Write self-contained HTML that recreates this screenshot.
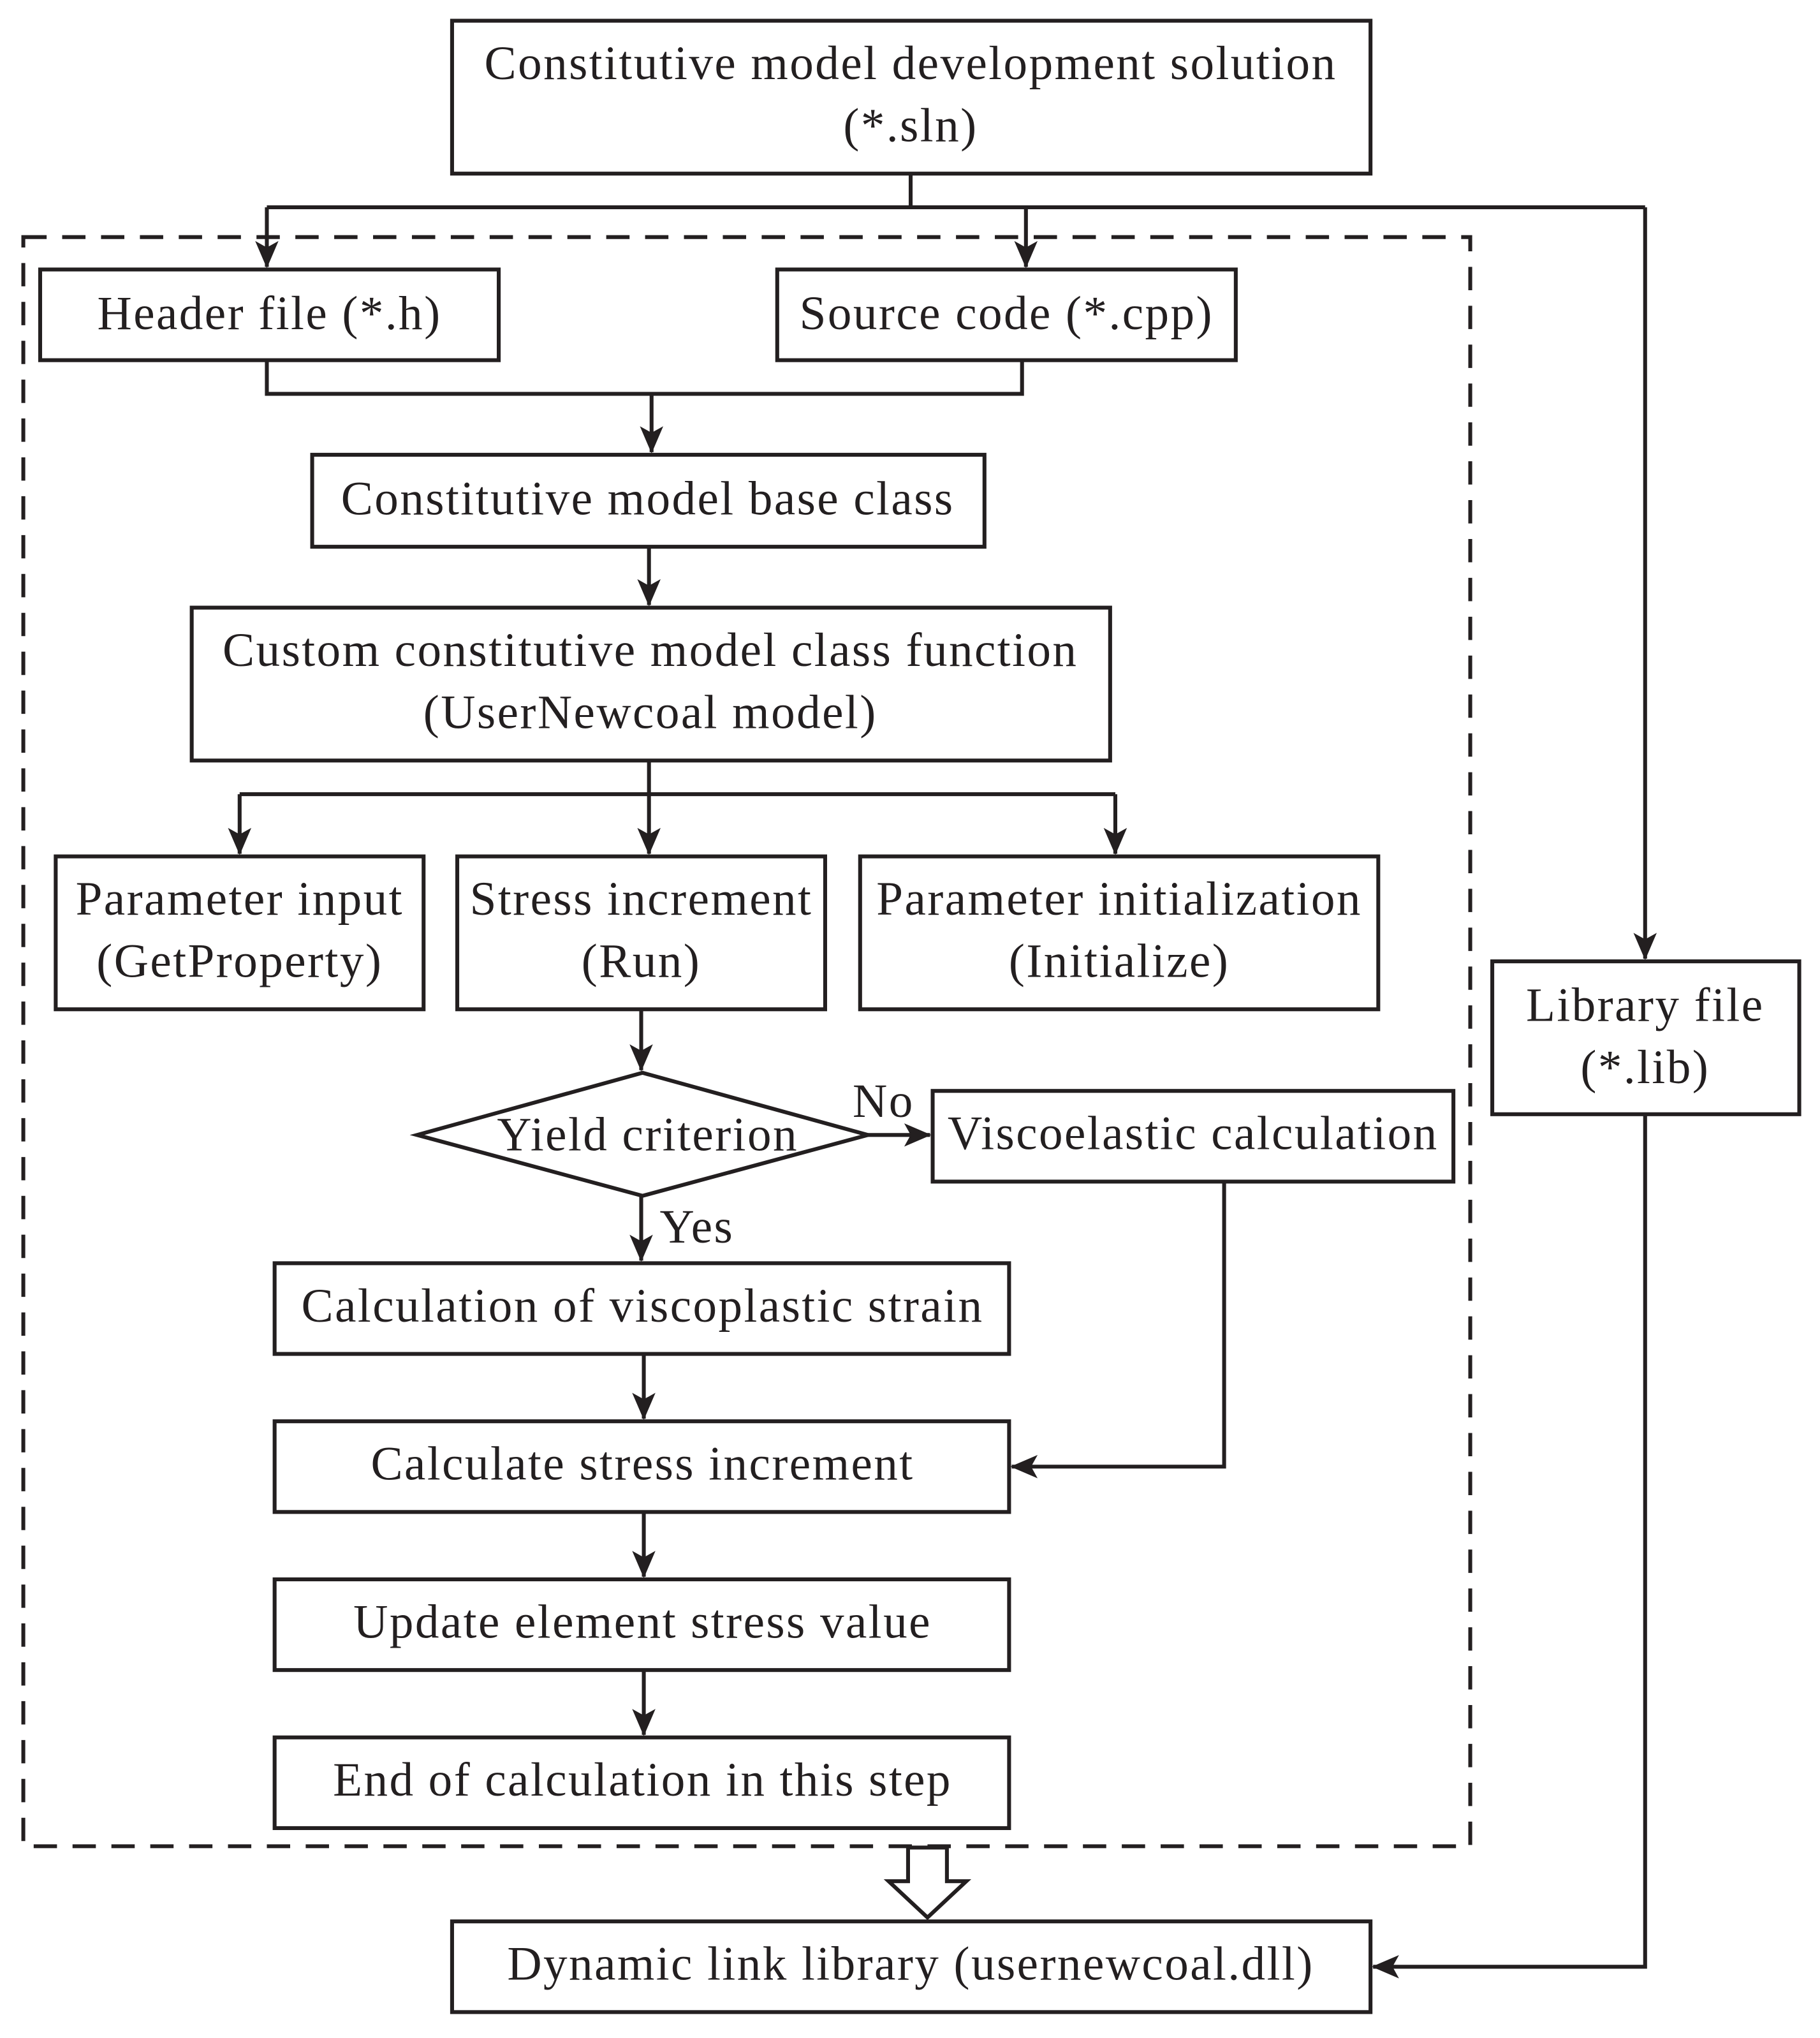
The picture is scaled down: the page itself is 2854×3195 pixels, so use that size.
<!DOCTYPE html>
<html><head><meta charset="utf-8"><style>
html,body{margin:0;padding:0;background:#fff;}
svg{display:block;}
text{font-family:"Liberation Serif",serif;font-size:37px;letter-spacing:1.2px;fill:#231f20;text-anchor:middle;}
.b{fill:#fff;stroke:#231f20;stroke-width:3;}
.l{fill:none;stroke:#231f20;stroke-width:3;}
</style></head><body>
<svg width="2854" height="3195" viewBox="0 0 1405 1573" preserveAspectRatio="none" xmlns="http://www.w3.org/2000/svg">
<defs>
<marker id="m" markerWidth="22" markerHeight="20" refX="20" refY="10" orient="auto" markerUnits="userSpaceOnUse"><path d="M0,1 L21,10 L0,19 L5,10z" fill="#231f20"/></marker></defs>
<rect x="18" y="183" width="1117" height="1242" fill="none" stroke="#231f20" stroke-width="3" stroke-dasharray="18,12"/>
<path class="l" d="M703,134 V160 M206,160 H1270 M206,160 V206" marker-end="url(#m)"/>
<path class="l" d="M792,160 V206" marker-end="url(#m)"/>
<path class="l" d="M1270,160 V740" marker-end="url(#m)"/>
<path class="l" d="M206,278 V304 H789 V278 M503,304 V349" marker-end="url(#m)"/>
<path class="l" d="M501,422 V467" marker-end="url(#m)"/>
<path class="l" d="M501,587 V613 M185,613 H861 M185,613 V659" marker-end="url(#m)"/>
<path class="l" d="M501,613 V659" marker-end="url(#m)"/>
<path class="l" d="M861,613 V659" marker-end="url(#m)"/>
<path class="l" d="M495,779 V826" marker-end="url(#m)"/>
<path class="l" d="M670,876 H718" marker-end="url(#m)"/>
<path class="l" d="M495,923 V973" marker-end="url(#m)"/>
<path class="l" d="M497,1045 V1095" marker-end="url(#m)"/>
<path class="l" d="M945,912 V1132 H781" marker-end="url(#m)"/>
<path class="l" d="M497,1167 V1217" marker-end="url(#m)"/>
<path class="l" d="M497,1289 V1339" marker-end="url(#m)"/>
<path class="l" d="M1270,860 V1518 H1060" marker-end="url(#m)"/>
<path class="b" d="M701,1426 H731 V1452 H746 L716,1480 L686,1452 H701 Z"/>
<rect class="b" x="349" y="16" width="709" height="118"/>
<text x="703" y="61">Constitutive model development solution</text>
<text x="703" y="109">(*.sln)</text>
<rect class="b" x="31" y="208" width="354" height="70"/>
<text x="208" y="254">Header file (*.h)</text>
<rect class="b" x="600" y="208" width="354" height="70"/>
<text x="777" y="254">Source code (*.cpp)</text>
<rect class="b" x="241" y="351" width="519" height="71"/>
<text x="500" y="397">Constitutive model base class</text>
<rect class="b" x="148" y="469" width="709" height="118"/>
<text x="502" y="514">Custom constitutive model class function</text>
<text x="502" y="562">(UserNewcoal model)</text>
<rect class="b" x="43" y="661" width="284" height="118"/>
<text x="185" y="706">Parameter input</text>
<text x="185" y="754">(GetProperty)</text>
<rect class="b" x="353" y="661" width="284" height="118"/>
<text x="495" y="706">Stress increment</text>
<text x="495" y="754">(Run)</text>
<rect class="b" x="664" y="661" width="400" height="118"/>
<text x="864" y="706">Parameter initialization</text>
<text x="864" y="754">(Initialize)</text>
<rect class="b" x="1152" y="742" width="237" height="118"/>
<text x="1270" y="788">Library file</text>
<text x="1270" y="836">(*.lib)</text>
<polygon class="b" points="322,876 496,828 670,876 496,923"/>
<text x="500" y="888">Yield criterion</text>
<text x="682" y="862">No</text>
<rect class="b" x="720" y="842" width="402" height="70"/>
<text x="921" y="887">Viscoelastic calculation</text>
<text x="538" y="959">Yes</text>
<rect class="b" x="212" y="975" width="567" height="70"/>
<text x="496" y="1020">Calculation of viscoplastic strain</text>
<rect class="b" x="212" y="1097" width="567" height="70"/>
<text x="496" y="1142">Calculate stress increment</text>
<rect class="b" x="212" y="1219" width="567" height="70"/>
<text x="496" y="1264">Update element stress value</text>
<rect class="b" x="212" y="1341" width="567" height="70"/>
<text x="496" y="1386">End of calculation in this step</text>
<rect class="b" x="349" y="1483" width="709" height="70"/>
<text x="703" y="1528">Dynamic link library (usernewcoal.dll)</text>
</svg>
</body></html>
